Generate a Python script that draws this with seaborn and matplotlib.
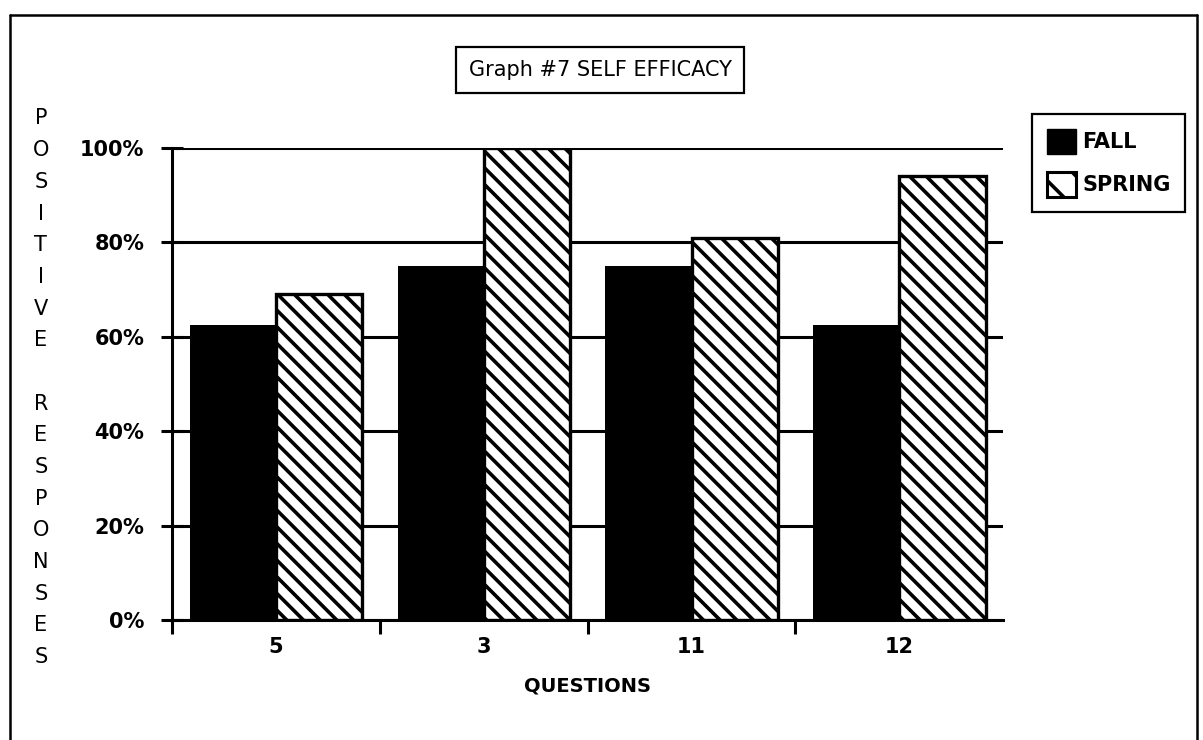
import matplotlib
matplotlib.use("Agg")
import matplotlib.pyplot as plt
import seaborn as sns
import pandas as pd
from matplotlib.patches import Patch
from matplotlib.lines import Line2D
from matplotlib.ticker import PercentFormatter, FixedLocator

questions = ["5", "3", "11", "12"]
fall = [0.625, 0.75, 0.75, 0.625]
spring = [0.69, 1.00, 0.81, 0.94]
seasons = ["FALL", "SPRING"]
y_ticks = [0, 0.2, 0.4, 0.6, 0.8, 1.0]

sns.set_theme(style="white")
plt.rcParams['font.family'] = ['Liberation Sans Narrow', 'DejaVu Sans']
plt.rcParams['hatch.linewidth'] = 2.6
plt.rcParams['hatch.color'] = 'black'
plt.rcParams['text.color'] = 'black'

df = pd.DataFrame({
    "question": questions * 2,
    "value": fall + spring,
    "season": [seasons[0]] * len(questions) + [seasons[1]] * len(questions),
})

fig = plt.figure(figsize=(12.03, 7.40), dpi=100)
ax = fig.add_axes([0.143, 0.162, 0.691, 0.638])

sns.barplot(data=df, x="question", y="value", hue="season", order=questions,
            hue_order=seasons, palette=["black", "white"], width=0.83,
            saturation=1, ax=ax, legend=False)

for bar in ax.containers[0]:
    bar.set_facecolor("black")
    bar.set_edgecolor("black")
    bar.set_linewidth(0)
for bar in ax.containers[1]:
    bar.set_facecolor("white")
    bar.set_edgecolor("black")
    bar.set_hatch("\\\\")
    bar.set_linewidth(2.4)

ax.set_xlim(-0.5, len(questions) - 0.5)
ax.set_ylim(0, 1.0)
ax.yaxis.set_major_locator(FixedLocator(y_ticks))
ax.yaxis.set_major_formatter(PercentFormatter(1.0, decimals=0))
ax.set_axisbelow(True)
ax.yaxis.grid(True, color="black", linewidth=2.2)
ax.xaxis.grid(False)

for s in ["top", "right"]:
    ax.spines[s].set_visible(False)
for s in ["left", "bottom"]:
    ax.spines[s].set_color("black")
    ax.spines[s].set_linewidth(2.2)

ax.tick_params(axis="y", direction="inout", length=16, width=2.2, color="black",
               left=True, pad=12, labelsize=15)
ax.tick_params(axis="x", which="major", length=0, pad=12, labelsize=15)
ax.xaxis.set_minor_locator(FixedLocator([i - 0.5 for i in range(len(questions))]))
ax.tick_params(axis="x", which="minor", direction="out", length=10, width=2.2,
               color="black", bottom=True)
for lab in ax.get_xticklabels() + ax.get_yticklabels():
    lab.set_fontweight("bold")
    lab.set_color("black")

ax.set_xlabel("QUESTIONS", fontsize=14, fontweight="bold", color="black", labelpad=14)
ax.set_ylabel("")

# vertical stacked y label
ylabel_text = "\n".join(list("POSITIVE") + [" "] + list("RESPONSES"))
fig.text(0.034, 0.476, ylabel_text, ha="center", va="center", fontsize=15,
         linespacing=1.73, color="black")

# title box
fig.text(0.4988, 0.905, "Graph #7 SELF EFFICACY", ha="center", va="center",
         fontsize=15, color="black",
         bbox=dict(boxstyle="square,pad=0.62", facecolor="white",
                   edgecolor="black", linewidth=1.6))

# legend
handles = [Patch(facecolor="black", edgecolor="black", label=seasons[0]),
           Patch(facecolor="white", edgecolor="black", hatch="\\", linewidth=2.2,
                 label=seasons[1])]
leg = fig.legend(handles=handles, loc="upper left", bbox_to_anchor=(0.858, 0.846),
                 frameon=True, fancybox=False, edgecolor="black", framealpha=1,
                 prop={"size": 15, "weight": "bold"}, handlelength=1.4,
                 handleheight=1.5, handletextpad=0.3, borderpad=0.7,
                 labelspacing=0.85, borderaxespad=0)
leg.get_frame().set_linewidth(1.6)
leg.get_frame().set_edgecolor("black")
for t in leg.get_texts():
    t.set_color("black")

# page border (left, top, right)
for xs, ys in [([0.008, 0.008], [0.0, 0.98]),
               ([0.008, 0.995], [0.98, 0.98]),
               ([0.995, 0.995], [0.98, 0.0])]:
    fig.add_artist(Line2D(xs, ys, transform=fig.transFigure, color="black",
                          linewidth=1.8))

fig.savefig("out.png", dpi=100)
